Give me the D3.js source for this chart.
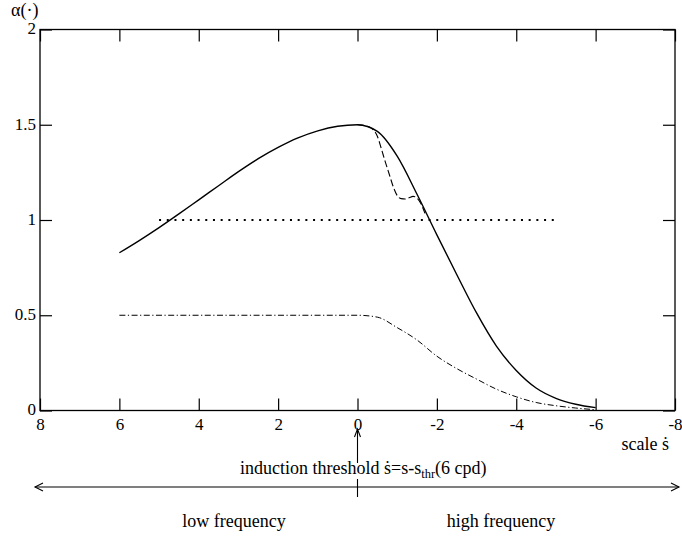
<!DOCTYPE html>
<html>
<head>
<meta charset="utf-8">
<script src="https://cdn.jsdelivr.net/npm/d3@7"></script>
<style>
  html, body { margin: 0; padding: 0; background: #fff; }
</style>
</head>
<body>
<svg id="chart" width="682" height="536"></svg>
<script>
// scale axis (s-dot) and value axis alpha(.)
const xTicks = [8, 6, 4, 2, 0, -2, -4, -6, -8];
const yTicks = [0, 0.5, 1, 1.5, 2];

// solid curve
const solidS = [6, 5.5, 5, 4.5, 4, 3.5, 3, 2.5, 2, 1.5, 1, 0.5, 0,
                -0.5, -1, -1.5, -2, -2.5, -3, -3.5, -4, -4.5, -5, -5.5, -6];
const solidA = [0.828, 0.892, 0.96, 1.032, 1.106, 1.18, 1.254, 1.322, 1.381, 1.431, 1.468, 1.492, 1.5,
                1.465, 1.335, 1.135, 0.922, 0.714, 0.512, 0.338, 0.21, 0.118, 0.064, 0.033, 0.015];

// dashed curve (dip near the threshold)
const dashedS = [0, -0.2, -0.35, -0.5, -0.6, -0.7, -0.8, -0.9, -1.0, -1.1, -1.2, -1.3, -1.4, -1.5, -1.6, -1.7];
const dashedA = [1.5, 1.495, 1.482, 1.44, 1.375, 1.305, 1.24, 1.175, 1.128, 1.112, 1.11, 1.117, 1.124, 1.115, 1.085, 1.035];

// dotted reference level
const dottedS = [5, -5];
const dottedA = [1, 1];

// dash-dot curve
const dashDotS = [6, 0, -0.5, -1, -1.5, -2, -2.5, -3, -3.5, -4, -4.5, -5, -5.5, -6];
const dashDotA = [0.5, 0.5, 0.49, 0.435, 0.37, 0.285, 0.22, 0.165, 0.112, 0.072, 0.042, 0.025, 0.013, 0.004];

const svg = d3.select("#chart");
const plotLeft = 40, plotRight = 675, plotTop = 29.5, plotBottom = 410.5;
const fontSize = 17, noteSize = 18;
const serif = '"Liberation Serif", "Times New Roman", Times, "DejaVu Serif", serif';

const x = d3.scaleLinear().domain([8, -8]).range([plotLeft, plotRight]);
const y = d3.scaleLinear().domain([0, 2]).range([plotBottom, plotTop]);

const fmt = d => String(d);  // plain hyphen for negatives

// frame
svg.append("rect")
  .attr("x", plotLeft).attr("y", plotTop)
  .attr("width", plotRight - plotLeft).attr("height", plotBottom - plotTop)
  .attr("fill", "none").attr("stroke", "#000").attr("stroke-width", 1.3);

// bottom axis with inward ticks and labels
const gB = svg.append("g").attr("transform", `translate(0,${plotBottom})`)
  .call(d3.axisBottom(x).tickValues(xTicks).tickFormat(fmt).tickSizeInner(-12).tickSizeOuter(0).tickPadding(7));
// top axis: ticks only
const gT = svg.append("g").attr("transform", `translate(0,${plotTop})`)
  .call(d3.axisTop(x).tickValues(xTicks).tickFormat("").tickSizeInner(-12).tickSizeOuter(0));
// left axis with labels
const gL = svg.append("g").attr("transform", `translate(${plotLeft},0)`)
  .call(d3.axisLeft(y).tickValues(yTicks).tickFormat(fmt).tickSizeInner(-12).tickSizeOuter(0).tickPadding(4));
// right axis: ticks only
const gR = svg.append("g").attr("transform", `translate(${plotRight},0)`)
  .call(d3.axisRight(y).tickValues(yTicks).tickFormat("").tickSizeInner(-12).tickSizeOuter(0));

[gB, gT, gL, gR].forEach(g => {
  g.attr("font-family", serif);
  g.select(".domain").remove();
  g.selectAll(".tick line").attr("stroke", "#000").attr("stroke-width", 1.2);
  g.selectAll("text").attr("font-size", fontSize).attr("fill", "#000");
});
gL.selectAll("text").attr("dy", "0.25em");

// curves
const line = d3.line().x(d => x(d[0])).y(d => y(d[1])).curve(d3.curveMonotoneX);
const zip = (a, b) => a.map((v, i) => [v, b[i]]);

const plot = svg.append("g").attr("fill", "none").attr("stroke", "#000");

plot.append("path").attr("d", line(zip(dashDotS, dashDotA)))
  .attr("stroke-width", 1).attr("stroke-dasharray", "6,2.5,1.2,2.5");

plot.append("path").attr("d", line(zip(dottedS, dottedA)))
  .attr("stroke-width", 2).attr("stroke-dasharray", "2,5.7");

plot.append("path").attr("d", line(zip(dashedS, dashedA)))
  .attr("stroke-width", 1.1).attr("stroke-dasharray", "7,3");

plot.append("path").attr("d", line(zip(solidS, solidA)))
  .attr("stroke-width", 1.4);

// value axis title
svg.append("text").attr("x", 11).attr("y", 16).attr("font-size", noteSize).text("α(·)");

// scale axis title with dotted s
svg.append("text").attr("x", 669).attr("y", 450).attr("font-size", noteSize)
  .attr("text-anchor", "end").text("scale ṡ");

// arrow pointing at the threshold
const xs0 = x(0);
const ann = svg.append("g").attr("fill", "none").attr("stroke", "#000").attr("stroke-width", 1.1);
ann.append("line").attr("x1", xs0).attr("x2", xs0).attr("y1", 463).attr("y2", 429);
ann.append("path").attr("d", `M${xs0 - 3},${437} L${xs0},${429} L${xs0 + 3},${437}`);

// threshold caption
const cap = svg.append("text").attr("x", 240).attr("y", 474).attr("font-size", noteSize);
cap.append("tspan").text("induction threshold ṡ=s-s");
cap.append("tspan").attr("font-size", 12.5).attr("dy", 4).text("thr");
cap.append("tspan").attr("dy", -4).text("(6 cpd)");

// double-headed frequency arrow
const ay = 487;
ann.append("line").attr("x1", 35).attr("x2", 679).attr("y1", ay).attr("y2", ay);
ann.append("path").attr("d", `M${43},${ay - 4} L${35},${ay} L${43},${ay + 4}`);
ann.append("path").attr("d", `M${671},${ay - 4} L${679},${ay} L${671},${ay + 4}`);
ann.append("line").attr("x1", xs0).attr("x2", xs0).attr("y1", 479).attr("y2", 497);

svg.append("text").attr("x", 234).attr("y", 527).attr("font-size", noteSize)
  .attr("text-anchor", "middle").text("low frequency");
svg.append("text").attr("x", 501).attr("y", 527).attr("font-size", noteSize)
  .attr("text-anchor", "middle").text("high frequency");

// serif face for every label
svg.selectAll("text").style("font-family", serif).attr("fill", "#000");
</script>
</body>
</html>
